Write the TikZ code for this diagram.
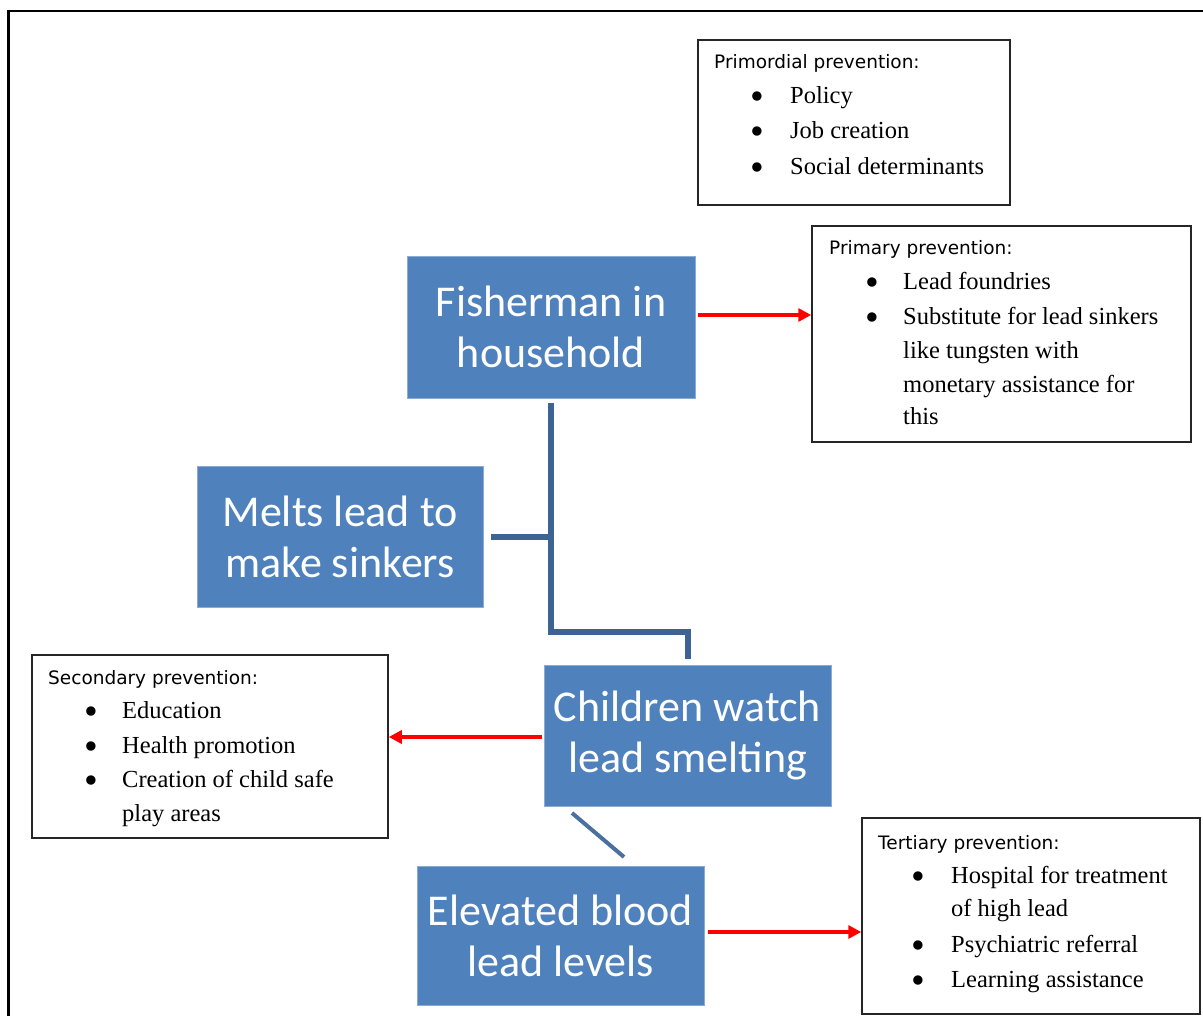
\documentclass[tikz,border=0pt]{standalone}
\usepackage{fontspec}
\setmainfont{Liberation Serif}
\newfontfamily\boxfont{Carlito}
\newfontfamily\headfont{DejaVu Sans}
\usetikzlibrary{arrows.meta}
\definecolor{bluefill}{RGB}{79,129,189}
\definecolor{blueedge}{RGB}{140,170,210}
\definecolor{conn}{RGB}{61,99,148}
\definecolor{diagc}{RGB}{74,112,160}
\tikzset{
  bluebox/.style={fill=bluefill, draw=blueedge, line width=0.8pt, text=white, inner sep=0pt,
    align=center, font=\boxfont\fontsize{44}{51}\selectfont},
  infobox/.style={draw=black!85, line width=1.5pt, fill=white},
  head/.style={anchor=mid west, inner sep=0pt, font=\headfont\fontsize{18.5}{22}\selectfont},
  item/.style={anchor=mid west, inner sep=0pt, font=\fontsize{24.5}{28}\selectfont},
  connline/.style={draw=conn, line width=6pt},
  redarr/.style={draw=red, line width=3.5pt, -{Triangle[length=13pt,width=13pt]}}
}
\newcommand{\bul}[1]{\makebox[#1][l]{\hspace*{-3pt}\smash{\raisebox{-6pt}{\scalebox{1.6}{•}}}}}
\begin{document}
\begin{tikzpicture}[x=1pt,y=-1pt]
\useasboundingbox (0,0) rectangle (1203,1016);
\begin{scope}
\clip (0,0) rectangle (1203,1016);
\draw[line width=2.5pt] (8.5,1030) -- (8.5,11) -- (1220,11);
\end{scope}

% info boxes
\node[infobox, minimum width=312pt, minimum height=165pt, inner sep=0pt] (primordial) at (854,122.5) {};
\node[head] (h1) at (714,66) {Primordial prevention:};
\node[item] (p1) at (753,101) {\bul{37pt}Policy};
\node[item] (p2) at (753,136) {\bul{37pt}Job creation};
\node[item] (p3) at (753,172) {\bul{37pt}Social determinants};

\node[infobox, minimum width=379pt, minimum height=216pt, inner sep=0pt] (primary) at (1001.5,334) {};
\node[head] (h2) at (829,252) {Primary prevention:};
\node[item] (q1) at (868,287) {\bul{35pt}Lead foundries};
\node[item] (q2) at (868,322) {\bul{35pt}Substitute for lead sinkers};
\node[item] (q3) at (903,356) {like tungsten with};
\node[item] (q4) at (903,390) {monetary assistance for};
\node[item] (q5) at (903,422) {this};

\node[infobox, minimum width=356pt, minimum height=183pt, inner sep=0pt] (secondary) at (210,746.5) {};
\node[head] (h3) at (48,682) {Secondary prevention:};
\node[item] (s1) at (87,716) {\bul{35pt}Education};
\node[item] (s2) at (87,751) {\bul{35pt}Health promotion};
\node[item] (s3) at (87,785) {\bul{35pt}Creation of child safe};
\node[item] (s4) at (122,819) {play areas};

\node[infobox, minimum width=338pt, minimum height=196pt, inner sep=0pt] (tertiary) at (1031,916) {};
\node[head] (h4) at (878,847) {Tertiary prevention:};
\node[item] (t1) at (914,881) {\bul{37pt}Hospital for treatment};
\node[item] (t2) at (951,914) {of high lead};
\node[item] (t3) at (914,950) {\bul{37pt}Psychiatric referral};
\node[item] (t4) at (914,985) {\bul{37pt}Learning assistance};

% blue boxes
\node[bluebox, minimum width=288pt, minimum height=142pt] (fish) at (551,327) {Fisherman in\\household};
\node[bluebox, minimum width=286pt, minimum height=141pt] (melts) at (340,536.5) {Melts lead to\\make sinkers};
\node[bluebox, minimum width=287pt, minimum height=141pt] (child) at (687.5,735.5) {Children watch\\lead smelting};
\node[bluebox, minimum width=287pt, minimum height=139pt] (blood) at (560.5,935.5) {Elevated blood\\lead levels};

% connectors
\coordinate (top) at ([yshift=-5pt]fish.south);
\coordinate (corner) at (top |- 0,632);
\coordinate (bend) at (child.north |- 0,632);
\coordinate (cend) at ([yshift=6pt]child.north);
\coordinate (mstart) at ([xshift=8pt]melts.east);
\draw[connline, line join=miter] (top) -- (corner) -- (bend) -- (cend);
\draw[connline] (mstart) -- (mstart -| top);
\coordinate (d1) at (572,813);
\coordinate (d2) at (624,857);
\draw[draw=diagc, line width=4pt] (d1) -- (d2);

% red arrows
\coordinate (a1) at ([shift={(3pt,12pt)}]fish.east);
\draw[redarr] (a1) -- (a1 -| primary.west);
\coordinate (a2) at ([shift={(-2pt,-1.5pt)}]child.west);
\draw[redarr] (a2) -- (a2 -| secondary.east);
\coordinate (a3) at ([shift={(4pt,3.5pt)}]blood.east);
\draw[redarr] (a3) -- (a3 -| tertiary.west);
\end{tikzpicture}
\end{document}
